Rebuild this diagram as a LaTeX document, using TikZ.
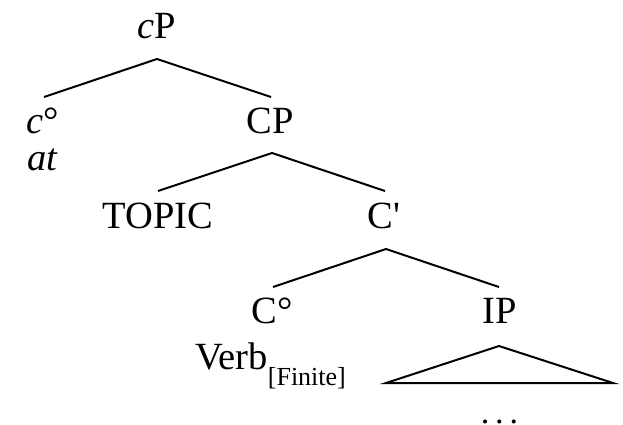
\documentclass[tikz,border=0pt]{standalone}
\usepackage{fontspec}
\setmainfont{Liberation Serif}[Ligatures=TeXOff]
\begin{document}
\begin{tikzpicture}[x=1pt,y=-1pt,
  lbl/.style={inner sep=0pt,anchor=base,font=\fontsize{38.5}{40}\selectfont},
  branch/.style={line width=2pt,line join=miter}]
\useasboundingbox (0,0) rectangle (623,424);

% labels
\node[lbl] (cP) at (157,38) {\textit{c}P};
\node[lbl,anchor=base west] (chead) at (26,133) {\textit{c}°};
\node[lbl,anchor=base west] (at) at (27,170) {\textit{at}};
\node[lbl] (CP) at (270,133) {CP};
\node[lbl] (topic) at (158,228) {TOPIC};
\node[lbl] (Cbar) at (384,228) {C'};
\node[lbl] (Chead) at (272,323) {C°};
\node[lbl] (IP) at (500,323) {IP};
\node[lbl,anchor=base west] (verb) at (195,369)
  {Verb\raisebox{-16pt}{\fontsize{26}{27}\selectfont[Finite]}};
\node[lbl,font=\fontsize{34}{36}\selectfont] (dots) at (499.5,423) {.\hspace{6pt}.\hspace{6pt}.};

% branch points
\coordinate (cPtop) at (157,59);
\coordinate (cheadtop) at (44,97);
\coordinate (CPin) at (271,97);
\coordinate (CPtop) at (272,153);
\coordinate (topictop) at (158,191);
\coordinate (Cbarin) at (385,191);
\coordinate (Cbartop) at (386,249);
\coordinate (Cheadtop) at (273,287);
\coordinate (IPin) at (499,287);
\coordinate (IPtop) at (499,346);
\coordinate (IPleft) at (386,383);
\coordinate (IPright) at (613,383);

% branches
\draw[branch] (cheadtop) -- (cPtop) -- (CPin);
\draw[branch] (topictop) -- (CPtop) -- (Cbarin);
\draw[branch] (Cheadtop) -- (Cbartop) -- (IPin);
\draw[branch] (IPtop) -- (IPleft) -- (IPright) -- cycle;
\end{tikzpicture}
\end{document}
